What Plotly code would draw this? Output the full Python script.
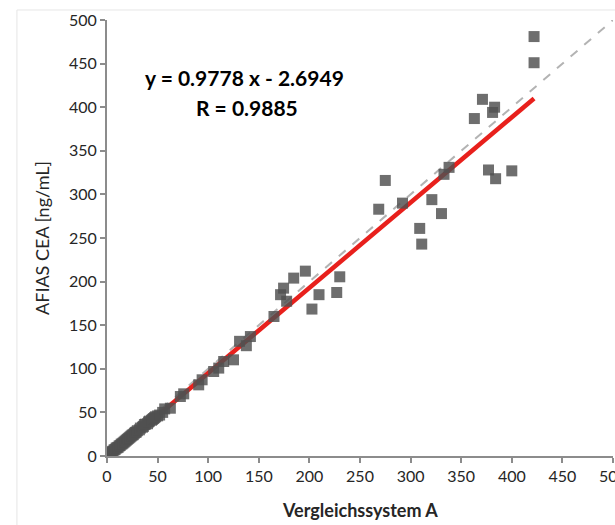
import plotly.graph_objects as go

# Data (x = Vergleichssystem A, y = AFIAS CEA)
x_low = [0.5, 1, 1.5, 2, 2.5, 3, 3.5, 4, 5, 6, 7, 8, 9, 10, 11, 12, 13, 14, 15, 16,
         17, 18, 19, 20, 21, 22, 23, 24, 25, 26, 27, 28, 29, 30, 32, 33, 35, 36, 37,
         38, 40, 41, 42, 44, 45, 46, 47, 48, 50, 52, 55, 57]
y_low = [1, 1.5, 1, 2.5, 2, 3, 3.5, 4, 5, 5.5, 7, 7.5, 9, 9.5, 10, 11.5, 12, 13.5, 14, 15,
         16, 17, 18, 19, 20, 21, 22, 23, 24, 24.5, 26, 27, 27.5, 29, 30, 32, 33, 34, 36,
         36.5, 37, 39, 40, 41, 42, 43, 44, 45, 46, 47, 50, 54]
x_high = [62.6, 72.5, 75.8, 90.6, 94, 105.4, 110.4, 115.3, 125, 131, 137.7, 141.7,
          165, 171.5, 174.5, 177.5, 184.5, 196, 202.5, 209.5, 227, 230,
          268.5, 275, 292, 309, 311, 321, 330.5, 333, 338, 363, 371, 377, 381, 383,
          384, 400, 422, 422]
y_high = [54.8, 68.2, 71.3, 81.6, 87.4, 96.9, 100.8, 108.4, 110.3, 131.5, 126.5, 137,
          160, 185, 192.5, 177.5, 204, 212, 168.5, 185, 187.5, 205.5,
          283, 316, 290, 261, 243, 294, 278, 323, 331, 387, 409, 328, 394, 400,
          318, 327, 451, 481]

slope = 0.9778
intercept = -2.6949
r_value = 0.9885

x_vals = x_low + x_high
y_vals = y_low + y_high

x_min, x_max = min(x_vals), max(x_vals)
reg_x = [x_min, x_max]
reg_y = [slope * v + intercept for v in reg_x]
ident = [0, 500]

font_family = "Lato, 'Open Sans', sans-serif"

fig = go.Figure()
fig.add_trace(go.Scatter(x=ident, y=ident, mode="lines",
                         line=dict(color="#b3b3b3", width=2, dash="dash"),
                         hoverinfo="skip", showlegend=False))
fig.add_trace(go.Scatter(x=reg_x, y=reg_y, mode="lines",
                         line=dict(color="#e8201c", width=4.5),
                         showlegend=False))
fig.add_trace(go.Scatter(x=x_vals, y=y_vals, mode="markers",
                         marker=dict(symbol="square", size=11, color="rgb(80,80,80)",
                                     opacity=0.83, line=dict(width=0)),
                         showlegend=False))

axis_common = dict(range=[0, 500], dtick=50, tick0=0, showgrid=False, zeroline=False,
                   showline=True, linecolor="#8c8c8c", linewidth=2, automargin=False,
                   ticks="outside", ticklen=5, tickwidth=2, tickcolor="#8c8c8c",
                   ticklabeloverflow="allow",
                   tickfont=dict(family=font_family, size=16, color="#262626"))

fig.update_xaxes(**axis_common)
fig.update_yaxes(**axis_common)

fig.add_annotation(x=0.5, y=-0.124, xref="paper", yref="paper", showarrow=False,
                   text="<b>Vergleichssystem A</b>", xanchor="center", yanchor="middle",
                   font=dict(family=font_family, size=18, color="#262626"))
fig.add_annotation(x=-0.1285, y=0.5, xref="paper", yref="paper", showarrow=False,
                   text="AFIAS CEA [ng/mL]", textangle=-90, xanchor="center", yanchor="middle",
                   font=dict(family=font_family, size=18, color="#262626"))

fig.add_annotation(x=135.8, y=434.5, xref="x", yref="y", showarrow=False,
                   text="<b>y = %.4f x - %.4f</b>" % (slope, -intercept),
                   font=dict(family=font_family, size=21, color="#000000"))
fig.add_annotation(x=138.7, y=400, xref="x", yref="y", showarrow=False,
                   text="<b>R = %.4f</b>" % r_value,
                   font=dict(family=font_family, size=21, color="#000000"))

fig.add_shape(type="rect", xref="paper", yref="paper",
              x0=-0.178, y0=-0.4, x1=1.2, y1=1.023,
              line=dict(color="#e6e6e6", width=1), fillcolor="rgba(0,0,0,0)", layer="below")

fig.update_layout(width=615, height=525, margin=dict(l=107, r=2, t=20, b=69),
                  plot_bgcolor="white", paper_bgcolor="white",
                  font=dict(family=font_family))

fig.write_html("out.html", config={"displayModeBar": False},
               post_script="document.body.style.margin='0';document.body.style.overflow='hidden';")
